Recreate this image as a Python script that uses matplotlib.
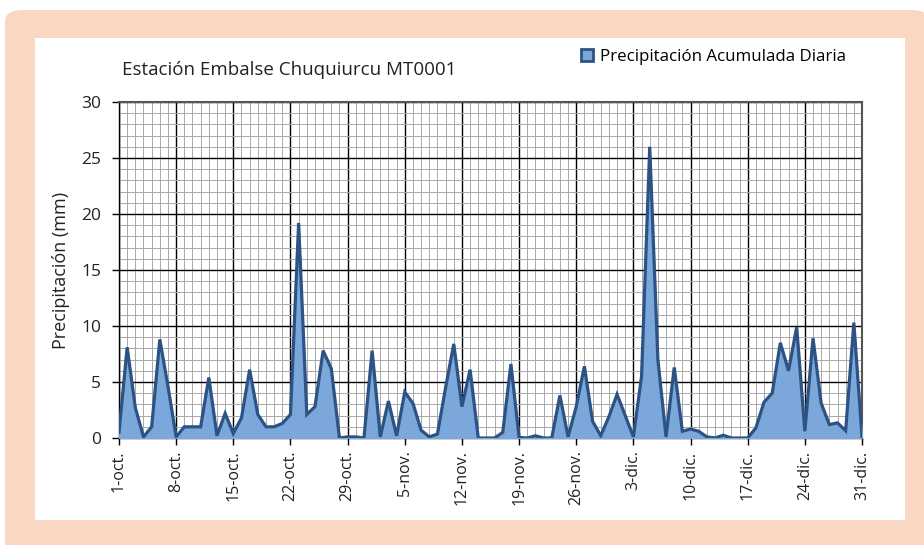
"""Precipitación acumulada diaria, Estación Embalse Chuquiurcu MT0001 (oct-dic)."""
import matplotlib
matplotlib.use("Agg")
import matplotlib.pyplot as plt
from matplotlib.patches import FancyBboxPatch, Rectangle
from matplotlib.lines import Line2D
import numpy as np

plt.rcParams["font.family"] = ["Open Sans", "DejaVu Sans"]

# daily precipitation (mm), 1-oct .. 31-dic
precip_oct = [0.5, 8.1, 2.7, 0.1, 1.0, 8.8, 4.6, 0.1, 1.0, 1.0,
              1.0, 5.4, 0.2, 2.2, 0.4, 1.8, 6.1, 2.1, 1.0, 1.0,
              1.3, 2.1, 19.2, 2.1, 2.8, 7.8, 6.2, 0.0, 0.1, 0.1,
              0.0]
precip_nov = [7.8, 0.1, 3.3, 0.2, 4.1, 3.1, 0.7, 0.1, 0.35, 4.5,
              8.4, 2.8, 6.1, 0.0, 0.0, 0.0, 0.5, 6.6, 0.05, 0.0,
              0.2, 0.0, 0.0, 3.8, 0.1, 2.8, 6.4, 1.5, 0.2, 1.9]
precip_dic = [3.9, 2.0, 0.1, 5.5, 26.0, 7.0, 0.1, 6.3, 0.6, 0.8,
              0.6, 0.1, 0.0, 0.25, 0.0, 0.0, 0.0, 0.9, 3.2, 4.0,
              8.5, 6.0, 9.9, 0.6, 8.9, 3.1, 1.2, 1.35, 0.65, 10.3,
              0.1]
precip = np.array(precip_oct + precip_nov + precip_dic)
days = np.arange(len(precip))

tick_labels = ["1-oct.", "8-oct.", "15-oct.", "22-oct.", "29-oct.",
               "5-nov.", "12-nov.", "19-nov.", "26-nov.", "3-dic.",
               "10-dic.", "17-dic.", "24-dic.", "31-dic."]

FILL = "#7ba7da"
EDGE = "#2d5385"
PEACH = "#fad7c2"

fig = plt.figure(figsize=(9.24, 5.45), dpi=100)
W, H = 924, 545

# peach frame and white panel
fig.patches.append(FancyBboxPatch(
    (5 / W, -0.1), 1.0, (545 - 10) / H + 0.1,
    boxstyle="round,pad=0,rounding_size=0.02",
    transform=fig.transFigure, facecolor=PEACH, edgecolor="none", zorder=0))
fig.patches.append(Rectangle(
    (35 / W, (H - 520) / H), (905 - 35) / W, (520 - 38) / H,
    transform=fig.transFigure, facecolor="white", edgecolor="none", zorder=1))

ax = fig.add_axes([119 / W, (H - 438) / H, 743 / W, 336 / H])
ax.set_zorder(5)
ax.set_facecolor("none")

ax.fill_between(days, precip, 0, color=FILL, zorder=3)
ax.plot(days, precip, color=EDGE, lw=2.3, zorder=4, solid_joinstyle="miter")

ax.set_xlim(0, len(precip) - 1)
ax.set_ylim(0, 30)

# grid: minor daily / 1 mm, major weekly / 5 mm
ax.set_xticks(days[::7])
ax.set_xticklabels(tick_labels, rotation=90, fontsize=11.5)
ax.set_xticks(days, minor=True)
ax.set_yticks(np.arange(0, 31, 5))
ax.set_yticks(np.arange(0, 31, 1), minor=True)
ax.tick_params(axis="both", which="minor", length=0)
ax.tick_params(axis="both", which="major", length=5, width=1, color="black",
               labelcolor="#222222", direction="out")
ax.tick_params(axis="y", labelsize=12.5, pad=8)
ax.tick_params(axis="x", pad=4)
ax.grid(which="minor", color="#a8a8a8", lw=0.7, zorder=1)
ax.grid(which="major", color="black", lw=1.0, zorder=2)
ax.set_axisbelow(True)

for side in ["left", "bottom"]:
    ax.spines[side].set_color("black")
    ax.spines[side].set_linewidth(1.0)
for side in ["top", "right"]:
    ax.spines[side].set_color("#555555")
    ax.spines[side].set_linewidth(1.5)

ax.set_ylabel("Precipitación (mm)", fontsize=13, color="#222222", labelpad=8)

fig.text(122 / W, 1 - 70 / H, "Estación Embalse Chuquiurcu MT0001",
         fontsize=13.5, color="#222222", va="center", ha="left")

handle = Line2D([], [], marker="s", linestyle="none", markersize=9,
                markerfacecolor=FILL, markeredgecolor=EDGE,
                markeredgewidth=2)
fig.legend([handle], ["Precipitación Acumulada Diaria"],
           loc="center left", bbox_to_anchor=(570 / W, 1 - 57 / H),
           frameon=False, fontsize=12.2, handletextpad=0.15,
           handlelength=1.2, borderaxespad=0)

fig.savefig("out.png", dpi=100)
plt.close(fig)
